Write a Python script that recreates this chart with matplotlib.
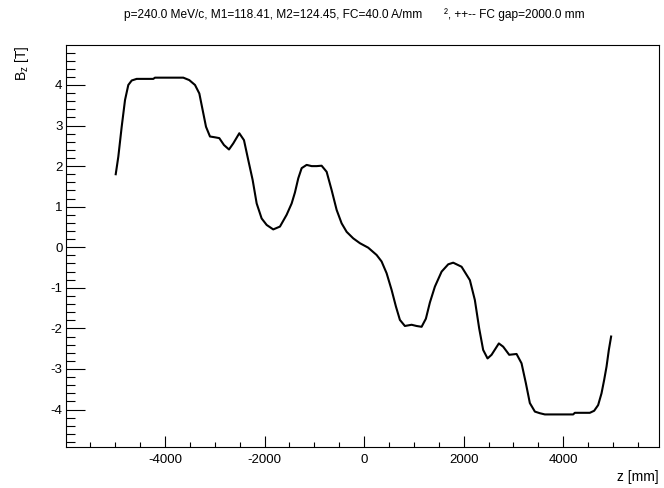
import matplotlib
matplotlib.use("Agg")
import matplotlib.pyplot as plt
from matplotlib.ticker import MultipleLocator

plt.rcParams['font.family'] = ['Liberation Sans', 'DejaVu Sans']
plt.rcParams['mathtext.fontset'] = 'custom'
plt.rcParams['mathtext.rm'] = 'Liberation Sans'
plt.rcParams['mathtext.it'] = 'Liberation Sans'
plt.rcParams['axes.unicode_minus'] = False

title_main = "p=240.0 MeV/c, M1=118.41, M2=124.45, FC=40.0 A/mm"
title_tail = "², ++-- FC gap=2000.0 mm"
x_label = "z [mm]"
y_label = r"$\mathrm{B_{z}}$ [T]"

z_mm = [-4991, -4939, -4871, -4804, -4738, -4670, -4570, -4236, -4202, -3633,
        -3513, -3398, -3311, -3244, -3177, -3097, -2997, -2910, -2816, -2715,
        -2629, -2508, -2414, -2328, -2240, -2159, -2059, -1958, -1826, -1691,
        -1557, -1456, -1390, -1323, -1255, -1155, -1054, -954, -854, -753,
        -653, -552, -452, -351, -219, -84, 82, 251, 351, 452,
        552, 639, 719, 819, 954, 1054, 1155, 1241, 1322, 1422,
        1557, 1690, 1790, 1958, 2125, 2225, 2312, 2392, 2480, 2561,
        2707, 2794, 2915, 3063, 3163, 3250, 3330, 3431, 3531, 3632,
        4200, 4234, 4535, 4622, 4702, 4770, 4823, 4871, 4917, 4963]
bz_T = [1.80, 2.23, 2.97, 3.63, 4.00, 4.11, 4.15, 4.15, 4.18, 4.18,
        4.12, 4.00, 3.79, 3.38, 2.97, 2.73, 2.71, 2.69, 2.52, 2.41,
        2.56, 2.81, 2.64, 2.15, 1.66, 1.08, 0.71, 0.55, 0.44, 0.51,
        0.80, 1.08, 1.35, 1.70, 1.95, 2.03, 2.00, 2.00, 2.01, 1.86,
        1.41, 0.92, 0.59, 0.38, 0.22, 0.10, -0.01, -0.19, -0.35, -0.64,
        -1.05, -1.46, -1.79, -1.94, -1.91, -1.94, -1.96, -1.76, -1.36, -0.97,
        -0.60, -0.42, -0.38, -0.48, -0.81, -1.30, -2.00, -2.53, -2.74, -2.65,
        -2.37, -2.45, -2.65, -2.63, -2.86, -3.35, -3.84, -4.05, -4.09, -4.12,
        -4.12, -4.08, -4.08, -4.03, -3.89, -3.60, -3.27, -2.94, -2.53, -2.20]

W, H = 664, 488
fig = plt.figure(figsize=(W / 100, H / 100), dpi=100)
L, R, T, B = 66, 659, 45, 447.3
ax = fig.add_axes([L / W, 1 - B / H, (R - L) / W, (B - T) / H])

ax.plot(z_mm, bz_T, color='black', lw=1.5, solid_joinstyle='round')
ax.set_xlim(-5990, 5925)
ax.set_ylim(-4.93, 4.985)

ax.xaxis.set_major_locator(MultipleLocator(2000))
ax.xaxis.set_minor_locator(MultipleLocator(500))
ax.yaxis.set_major_locator(MultipleLocator(1))
ax.yaxis.set_minor_locator(MultipleLocator(0.2))

ax.tick_params(axis='x', which='major', direction='in', length=8.2, width=0.8,
               labelsize=9.5, pad=5)
ax.tick_params(axis='x', which='minor', direction='in', length=3.4, width=0.8)
ax.tick_params(axis='y', which='major', direction='in', length=13.7, width=0.8,
               labelsize=9.5, pad=2.5)
ax.tick_params(axis='y', which='minor', direction='in', length=6.5, width=0.8)
for s in ax.spines.values():
    s.set_linewidth(0.8)

# axis titles
fig.text(R / W, 1 - 477 / H, x_label, ha='right', va='center', fontsize=10)
fig.text(22 / W, 1 - T / H, y_label, ha='center', va='top', rotation=90, fontsize=10)

# title in two pieces (ROOT leaves a gap before the superscript)
fig.canvas.draw()
renderer = fig.canvas.get_renderer()
t1 = fig.text(422 / W, 1 - 18.3 / H, title_main, ha='right', va='baseline', fontsize=7)
w1 = t1.get_window_extent(renderer).width
fs = 7 * 297.0 / w1
t1.set_fontsize(fs)
fig.text(444 / W, 1 - 18.3 / H, title_tail, ha='left', va='baseline', fontsize=fs)

fig.savefig("out.png", dpi=100)
